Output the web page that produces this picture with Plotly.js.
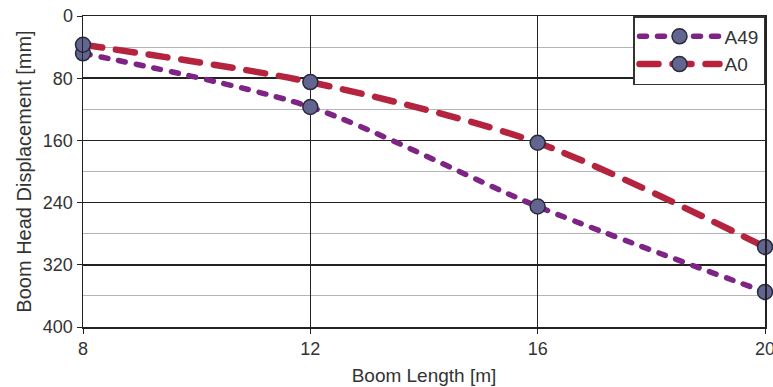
<!DOCTYPE html>
<html>
<head>
<meta charset="utf-8">
<script src="https://cdn.plot.ly/plotly-3.0.1.min.js"></script>
<style>html,body{margin:0;padding:0;background:#fff;}#chart{width:773px;height:387px;}
.js-line{stroke-linecap:round;}</style>
</head>
<body>
<div id="chart"></div>
<script>
const boomLength = [8, 12, 16, 20];
const dispA49 = [48, 117, 245, 355];
const dispA0 = [37, 85, 163, 297];
const yTicks = [0, 80, 160, 240, 320, 400];
const xTicks = [8, 12, 16, 20];

const markerStyle = {size: 15, color: '#62658f', line: {color: '#2a2a3a', width: 1.5}};

const traces = [
  {x: boomLength, y: dispA49, name: 'A49', type: 'scatter', mode: 'lines+markers',
   line: {color: '#7d2484', width: 5.5, dash: '7px,11px', shape: 'spline', smoothing: 0.8},
   marker: markerStyle, cliponaxis: false},
  {x: boomLength, y: dispA0, name: 'A0', type: 'scatter', mode: 'lines+markers',
   line: {color: '#b5243f', width: 6.5, dash: '19px,14px', shape: 'spline', smoothing: 0.8},
   marker: markerStyle, cliponaxis: false}
];

const layout = {
  width: 773, height: 387,
  margin: {l: 83, r: 8, t: 16, b: 60},
  paper_bgcolor: '#fff', plot_bgcolor: '#fff',
  font: {family: 'Liberation Sans, Arial, sans-serif', size: 18, color: '#333'},
  showlegend: true,
  legend: {x: 1, xanchor: 'right', y: 1, yanchor: 'top', bgcolor: '#fff',
           bordercolor: '#333', borderwidth: 1.5, font: {size: 19, color: '#333'},
           itemwidth: 80, tracegroupgap: 8},
  xaxis: {range: [8, 20], tickvals: xTicks, ticktext: xTicks.map(String),
          showgrid: true, gridcolor: '#222', gridwidth: 1.5, zeroline: false,
          showline: true, linecolor: '#222', linewidth: 1.5, mirror: true,
          ticks: 'outside', ticklen: 5, tickcolor: '#222', ticklabeloverflow: 'allow',
          title: {text: 'Boom Length [m]', font: {size: 19, color: '#333'}, standoff: 10}},
  yaxis: {range: [400, 0], tickvals: yTicks, ticktext: yTicks.map(String),
          showgrid: true, gridcolor: '#222', gridwidth: 1.5, zeroline: false,
          showline: true, linecolor: '#222', linewidth: 1.5, mirror: true,
          ticks: 'outside', ticklen: 5, tickcolor: '#222',
          minor: {dtick: 40, showgrid: true, gridcolor: '#b4b4b4', gridwidth: 1, ticks: ''},
          title: {text: 'Boom Head Displacement [mm]', font: {size: 20, color: '#333'}, standoff: 6}}
};

Plotly.newPlot('chart', traces, layout, {displayModeBar: false, staticPlot: true});
</script>
</body>
</html>
